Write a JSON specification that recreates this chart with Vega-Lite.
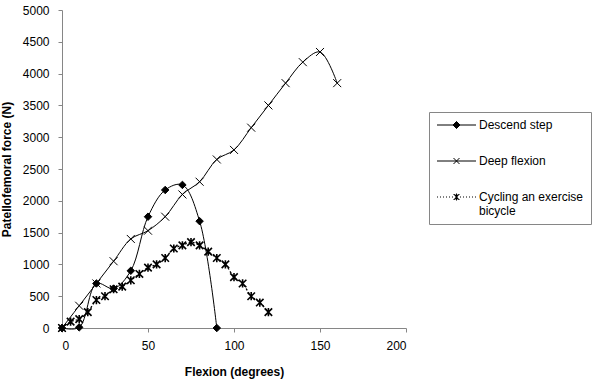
{
  "$schema": "https://vega.github.io/schema/vega-lite/v6.json",
  "width": 344,
  "height": 318,
  "autosize": "none",
  "padding": {"left": 62, "top": 10, "right": 194, "bottom": 55},
  "background": "white",
  "config": {
    "view": {"stroke": null},
    "font": "Liberation Sans",
    "axis": {"grid": false, "domainColor": "#868686", "tickColor": "#868686", "labelColor": "black", "titleColor": "black", "labelFont": "Liberation Sans", "titleFont": "Liberation Sans", "labelFontSize": 12, "titleFontSize": 12, "titleFontWeight": "bold", "tickSize": 4}
  },
  "data": {"values": [
    {"series": "Descend step", "x": 0, "y": 0},
    {"series": "Descend step", "x": 10, "y": 10},
    {"series": "Descend step", "x": 20, "y": 700},
    {"series": "Descend step", "x": 30, "y": 620},
    {"series": "Descend step", "x": 40, "y": 900},
    {"series": "Descend step", "x": 50, "y": 1750},
    {"series": "Descend step", "x": 60, "y": 2170},
    {"series": "Descend step", "x": 70, "y": 2250},
    {"series": "Descend step", "x": 80, "y": 1680},
    {"series": "Descend step", "x": 90, "y": 0},
    {"series": "Deep flexion", "x": 0, "y": 0},
    {"series": "Deep flexion", "x": 10, "y": 350},
    {"series": "Deep flexion", "x": 20, "y": 700},
    {"series": "Deep flexion", "x": 30, "y": 1050},
    {"series": "Deep flexion", "x": 40, "y": 1400},
    {"series": "Deep flexion", "x": 50, "y": 1530},
    {"series": "Deep flexion", "x": 60, "y": 1750},
    {"series": "Deep flexion", "x": 70, "y": 2100},
    {"series": "Deep flexion", "x": 80, "y": 2300},
    {"series": "Deep flexion", "x": 90, "y": 2650},
    {"series": "Deep flexion", "x": 100, "y": 2800},
    {"series": "Deep flexion", "x": 110, "y": 3150},
    {"series": "Deep flexion", "x": 120, "y": 3500},
    {"series": "Deep flexion", "x": 130, "y": 3850},
    {"series": "Deep flexion", "x": 140, "y": 4180},
    {"series": "Deep flexion", "x": 150, "y": 4340},
    {"series": "Deep flexion", "x": 160, "y": 3850},
    {"series": "Cycling an exercise bicycle", "x": 0, "y": 0},
    {"series": "Cycling an exercise bicycle", "x": 5, "y": 100},
    {"series": "Cycling an exercise bicycle", "x": 10, "y": 140},
    {"series": "Cycling an exercise bicycle", "x": 15, "y": 250},
    {"series": "Cycling an exercise bicycle", "x": 20, "y": 440},
    {"series": "Cycling an exercise bicycle", "x": 25, "y": 500},
    {"series": "Cycling an exercise bicycle", "x": 30, "y": 610},
    {"series": "Cycling an exercise bicycle", "x": 35, "y": 650},
    {"series": "Cycling an exercise bicycle", "x": 40, "y": 750},
    {"series": "Cycling an exercise bicycle", "x": 45, "y": 850},
    {"series": "Cycling an exercise bicycle", "x": 50, "y": 950},
    {"series": "Cycling an exercise bicycle", "x": 55, "y": 1000},
    {"series": "Cycling an exercise bicycle", "x": 60, "y": 1100},
    {"series": "Cycling an exercise bicycle", "x": 65, "y": 1250},
    {"series": "Cycling an exercise bicycle", "x": 70, "y": 1300},
    {"series": "Cycling an exercise bicycle", "x": 75, "y": 1350},
    {"series": "Cycling an exercise bicycle", "x": 80, "y": 1300},
    {"series": "Cycling an exercise bicycle", "x": 85, "y": 1200},
    {"series": "Cycling an exercise bicycle", "x": 90, "y": 1100},
    {"series": "Cycling an exercise bicycle", "x": 95, "y": 1000},
    {"series": "Cycling an exercise bicycle", "x": 100, "y": 800},
    {"series": "Cycling an exercise bicycle", "x": 105, "y": 700},
    {"series": "Cycling an exercise bicycle", "x": 110, "y": 500},
    {"series": "Cycling an exercise bicycle", "x": 115, "y": 400},
    {"series": "Cycling an exercise bicycle", "x": 120, "y": 250}
  ]},
  "encoding": {
    "x": {"field": "x", "type": "quantitative", "scale": {"domain": [0, 200], "nice": false}, "axis": {"values": [0, 50, 100, 150, 200], "format": "d", "title": "Flexion (degrees)", "labelPadding": 8, "titlePadding": 15}},
    "y": {"field": "y", "type": "quantitative", "scale": {"domain": [0, 5000], "nice": false}, "axis": {"values": [0, 500, 1000, 1500, 2000, 2500, 3000, 3500, 4000, 4500, 5000], "format": "d", "title": "Patellofemoral force (N)", "labelPadding": 9, "titlePadding": 9}}
  },
  "layer": [
    {
      "transform": [{"filter": "datum.series !== 'Cycling an exercise bicycle'"}],
      "mark": {"type": "line", "interpolate": "catmull-rom", "color": "black", "strokeWidth": 1},
      "encoding": {"detail": {"field": "series"}}
    },
    {
      "transform": [{"filter": "datum.series === 'Cycling an exercise bicycle'"}],
      "mark": {"type": "line", "interpolate": "catmull-rom", "color": "black", "strokeWidth": 1.3, "strokeDash": [2, 2]},
      "encoding": {}
    },
    {
      "transform": [{"filter": "datum.series === 'Descend step'"}],
      "mark": {"type": "point", "shape": "M0,-1L1,0L0,1L-1,0Z", "size": 56, "filled": true, "fill": "black", "stroke": "black", "strokeWidth": 1, "opacity": 1}
    },
    {
      "transform": [{"filter": "datum.series === 'Deep flexion'"}],
      "mark": {"type": "point", "shape": "M-1,-1L1,1M-1,1L1,-1", "size": 64, "filled": false, "stroke": "black", "strokeWidth": 1, "opacity": 1}
    },
    {
      "transform": [{"filter": "datum.series === 'Cycling an exercise bicycle'"}],
      "mark": {"type": "point", "shape": "M-1,-1L1,1M-1,1L1,-1M0,-1.1L0,1.1", "size": 56, "filled": false, "stroke": "black", "strokeWidth": 1.6, "opacity": 1}
    },
    {
      "transform": [{"filter": "false"}],
      "mark": {"type": "point", "filled": false, "stroke": "black", "strokeWidth": 1, "opacity": 1},
      "encoding": {
        "shape": {"field": "series", "type": "nominal",
          "scale": {"domain": ["Descend step", "Deep flexion", "Cycling an exercise bicycle"], "range": [
            "M-5,0H34M14.5,-3.5L18,0L14.5,3.5L11,0ZM14.5,-2.5L17,0L14.5,2.5L12,0ZM14.5,-1.5L16,0L14.5,1.5L13,0ZM14.5,-3.5V3.5",
            "M-5,0H34M11.5,-3L17.5,3M11.5,3L17.5,-3",
            "M-5,0H-4M-2,0H-1M1,0H2M4,0H5M7,0H8M10,0H11M18,0H19M21,0H22M24,0H25M27,0H28M30,0H31M33,0H34M11.5,-3L17.5,3M11.5,3L17.5,-3M14.5,-3.5L14.5,3.5M12.5,-3L16.5,3M12.5,3L16.5,-3"
          ]},
          "legend": {
            "title": null, "orient": "none", "legendX": 367, "legendY": 102,
            "strokeColor": "#868686", "padding": 7, "fillColor": "white",
            "symbolSize": 4, "symbolStrokeWidth": 1, "symbolStrokeColor": "black",
            "labelOffset": 31, "labelFontSize": 12, "labelFont": "Liberation Sans", "labelColor": "black", "labelLimit": 200,
            "rowPadding": 24,
            "labelExpr": "datum.label == 'Cycling an exercise bicycle' ? ['Cycling an exercise', 'bicycle'] : datum.label",
            "encode": {"labels": {"update": {"lineHeight": {"value": 15}}}}
          }
        },
        "size": {"value": 4}
      }
    }
  ]
}
